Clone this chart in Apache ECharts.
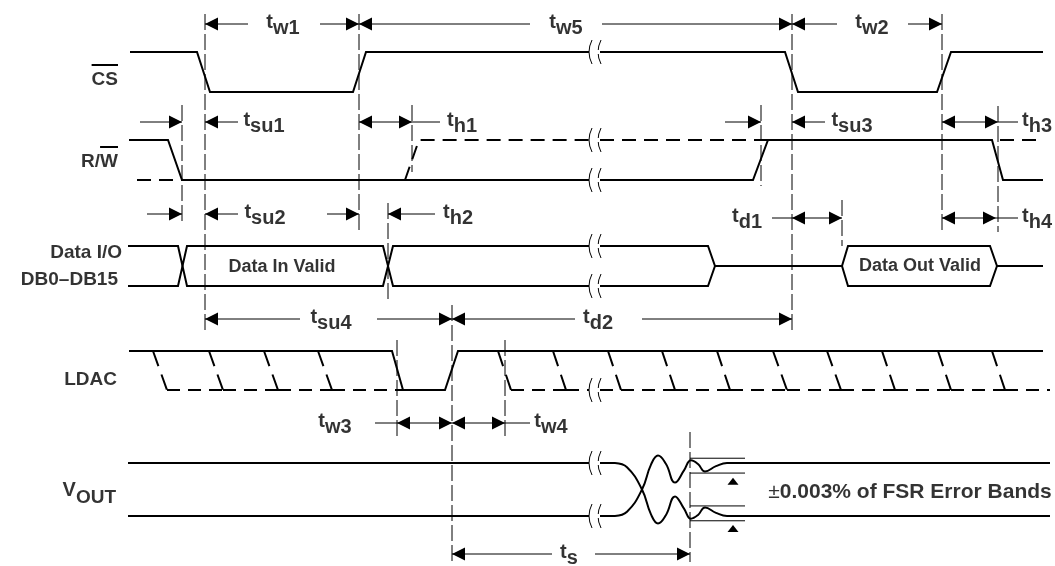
<!DOCTYPE html>
<html><head><meta charset="utf-8">
<script src="https://cdn.jsdelivr.net/npm/echarts@6/dist/echarts.min.js"></script>
<style>html,body{margin:0;padding:0;background:#fff}#c{width:1055px;height:566px}</style>
</head><body><div id="c"></div>
<script>
// ---------- data (time along x, logic level per signal row) ----------
// axis value of [low, high] logic level for each signal row
const rowLevels = { CS:[92,52], RW:[180,140], DATA:[286,246], LDAC:[390,351], VOUT:[516,463] };
// axis value of each dimension (annotation) row
const dimRows = { a:24, b:122, c:214, c2:218, d:319, e:423, f:554 };

// waveforms: [time, level] (1 = high, 0 = low, 0.5 = mid)
const csSolid = [
  [[130,1],[197,1],[210,0],[353,0],[366,1],[589,1]],
  [[600,1],[785,1],[798,0],[937,0],[951,1],[1043,1]]
];
const rwSolid = [
  [[129,1],[168,1],[182,0],[589,0]],
  [[600,0],[753,0],[768,1],[992,1],[1003,0],[1043,0]]
];
const rwDashed = [
  [[137,0],[182,0]],
  [[405,0],[419,1],[589,1]],
  [[600,1],[768,1]],
  [[1000,1],[1043,1]]
];
const dataUpper = [
  [[128,1],[178,1],[182.5,0.5],[187,1],[383,1],[388,0.5],[393,1],[589,1]],
  [[600,1],[708,1],[715,0.5],[842,0.5],[848,1],[990,1],[997,0.5],[1043,0.5]]
];
const dataLower = [
  [[128,0],[178,0],[182.5,0.5],[187,0],[383,0],[388,0.5],[393,0],[589,0]],
  [[600,0],[708,0],[715,0.5],[842,0.5],[848,0],[990,0],[997,0.5],[1043,0.5]]
];
const ldacSolid = [[[129,1],[392,1],[403,0],[445,0],[458,1],[1043,1]]];
const ldacDashedEdges = [
  [[153,1],[167,0]], [[209,1],[223,0]], [[264,1],[278,0]], [[318,1],[332,0]],
  [[498,1],[511,0]], [[553,1],[566,0]], [[608,1],[621,0]], [[662,1],[675,0]],
  [[717,1],[730,0]], [[773,1],[787,0]], [[827,1],[841,0]], [[882,1],[895,0]],
  [[938,1],[951,0]], [[992,1],[1005,0]]
];
const ldacDashedLow = [
  [[167,0],[223,0]], [[223,0],[278,0]], [[278,0],[332,0]], [[332,0],[403,0]],
  [[511,0],[566,0]], [[566,0],[589,0]], [[600,0],[621,0]], [[621,0],[675,0]],
  [[675,0],[730,0]], [[730,0],[787,0]], [[787,0],[841,0]], [[841,0],[895,0]],
  [[895,0],[951,0]], [[951,0],[1005,0]], [[1005,0],[1050,0]]
];
const voutFlat = [
  [[128,1],[589,1]], [[600,1],[615,1]], [[738,1],[1050,1]],
  [[128,0],[589,0]], [[600,0],[615,0]], [[738,0],[1050,0]]
];
const voutRise = [[615,0],[627,0.08],[642,0.5],[651,0.97],[658,1.14],[666,0.98],[675,0.63],[684,0.86],[691,1.05],[698,0.98],[705,0.84],[716,0.94],[727,1.0],[738,1.0]];
const voutFall = [[615,1],[627,0.92],[642,0.5],[651,0.03],[658,-0.14],[666,0.02],[675,0.37],[684,0.14],[691,-0.05],[698,0.02],[705,0.16],[716,0.06],[727,0.0],[738,0.0]];
const errorBands = [[690,745,1.09],[690,745,0.81],[690,745,0.19],[690,745,-0.09]];
const bandMarkers = [[733,0.72],[733,-0.17]];

// break marks: [time, row, level]
const breakMarks = [[590,'CS',1],[590,'RW',1],[590,'RW',0],[590,'DATA',1],[590,'DATA',0],[590,'LDAC',0],[590,'VOUT',1],[590,'VOUT',0]];

// vertical reference lines: [time, from, to]
const guides = [[205,14,330],[359,14,232],[182,105,222],[412,105,172],[388,203,300],[761,105,186],
  [792,14,330],[942,14,232],[998,106,232],[842,200,246],[452,305,562],[397,340,437],[505,340,437],[690,432,562]];

// dimension lines: [row, from, to]
const dimLines = [
  ['a',205,248],['a',320,359],['a',359,530],['a',602,792],['a',792,837],['a',908,942],
  ['b',140,182],['b',205,238],['b',359,440],['b',725,761],['b',792,825],['b',942,1018],
  ['c',147,182],['c',205,238],['c',327,359],['c',388,435],['c2',772,842],['c2',942,1018],
  ['d',205,300],['d',377,452],['d',452,575],['d',642,792],
  ['e',375,452],['e',452,530],
  ['f',452,552],['f',595,690]
];
// arrow heads: [time, row, direction] (-1 points left, 1 points right)
const arrowHeads = [
  [205,'a',-1],[359,'a',1],[359,'a',-1],[792,'a',1],[792,'a',-1],[942,'a',1],
  [182,'b',1],[205,'b',-1],[359,'b',-1],[412,'b',1],[761,'b',1],[792,'b',-1],[942,'b',-1],[998,'b',1],
  [182,'c',1],[205,'c',-1],[359,'c',1],[388,'c',-1],[792,'c2',-1],[842,'c2',1],[942,'c2',-1],[996,'c2',1],
  [205,'d',-1],[452,'d',1],[452,'d',-1],[792,'d',1],
  [397,'e',-1],[452,'e',1],[452,'e',-1],[505,'e',1],
  [452,'f',-1],[690,'f',1]
];
// timing parameter labels: [symbol, subscript, time, row]
const timingLabels = [
  ['t','w1',283,'a'],['t','w5',566,'a'],['t','w2',872,'a'],
  ['t','su1',264,'b'],['t','h1',462,'b'],['t','su3',852,'b'],['t','h3',1037,'b'],
  ['t','su2',265,'c'],['t','h2',458,'c'],['t','d1',747,'c2'],['t','h4',1037,'c2'],
  ['t','su4',331,'d'],['t','d2',598,'d'],
  ['t','w3',335,'e'],['t','w4',551,'e'],
  ['t','s',569,'f']
];
// signal names: [text, overlined part, row]
const signalLabels = [['CS','CS','CS'],['R/W','W','RW'],['Data I/O','','DATA'],['DB0\u2013DB15','','DATA'],['LDAC','','LDAC']];
const valueLabels = ['Data In Valid','Data Out Valid'];
const bandText = ['\u00b1','0.003% of FSR Error Bands'];

// ---------- rendering ----------
const FONT = '"Liberation Sans", Arial, Helvetica, sans-serif';
const INK = '#000';
const FS = 18;      // in-waveform labels
const FT = 20;      // timing parameter labels
const FSIG = 19;    // signal names
function lv(row, p) { const r = rowLevels[row]; return [p[0], r[0] + (r[1] - r[0]) * p[1]]; }
function rowMid(row) { const r = rowLevels[row]; return (r[0] + r[1]) / 2; }

const series = [];
function addPath(row, pts, st) {
  series.push({
    type:'line', data: pts.map(p => lv(row, p)), symbol:'none', showSymbol:false, silent:true,
    smooth: st.smooth || false, clip:false, animation:false, z: st.z || 3,
    lineStyle:{ color:INK, width: st.width || 2, type: st.dash || 'solid', cap:'butt', join:'miter' }
  });
}
function addRaw(pts, st) {
  series.push({
    type:'line', data: pts, symbol:'none', showSymbol:false, silent:true, clip:false, animation:false, z: st.z || 2,
    lineStyle:{ color:INK, width: st.width || 1, type: st.dash || 'solid', cap:'butt' }
  });
}
csSolid.forEach(s => addPath('CS', s, {}));
rwSolid.forEach(s => addPath('RW', s, {}));
rwDashed.forEach(s => addPath('RW', s, {dash:[14,8]}));
dataUpper.forEach(s => addPath('DATA', s, {}));
dataLower.forEach(s => addPath('DATA', s, {}));
ldacSolid.forEach(s => addPath('LDAC', s, {}));
ldacDashedEdges.forEach(s => addPath('LDAC', s, {dash:[16,9]}));
ldacDashedLow.forEach(s => addPath('LDAC', s, {dash:[13,8]}));
voutFlat.forEach(s => addPath('VOUT', s, {}));
addPath('VOUT', voutRise, {smooth:0.45});
addPath('VOUT', voutFall, {smooth:0.45});
errorBands.forEach(b => addPath('VOUT', [[b[0],b[2]],[b[1],b[2]]], {width:1}));
guides.forEach(g => addRaw([[g[0],g[1]],[g[0],g[2]]], {dash:[16,4], width:1}));
dimLines.forEach(d => addRaw([[d[1],dimRows[d[0]]],[d[2],dimRows[d[0]]]], {width:1}));

// arrow heads and band markers
series.push({
  type:'custom', silent:true, clip:false, animation:false, z:5,
  data: arrowHeads.map(a => [a[0], dimRows[a[1]], a[2]]).concat(bandMarkers.map(b => [b[0], lv('VOUT', [b[0], b[1]])[1], 2])),
  renderItem(params, api) {
    const p = api.coord([api.value(0), api.value(1)]);
    const d = api.value(2);
    let pts;
    if (d === 2) pts = [[p[0], p[1]], [p[0] - 5.5, p[1] + 7], [p[0] + 5.5, p[1] + 7]];
    else pts = [[p[0], p[1]], [p[0] - d * 13, p[1] - 6.5], [p[0] - d * 13, p[1] + 6.5]];
    return { type:'polygon', shape:{ points: pts }, style:{ fill: INK } };
  }
});
// break marks
series.push({
  type:'custom', silent:true, clip:false, animation:false, z:6,
  data: breakMarks.map(b => [b[0], lv(b[1], [b[0], b[2]])[1]]),
  renderItem(params, api) {
    const p = api.coord([api.value(0), api.value(1)]);
    const mk = (x) => ({ type:'bezierCurve', shape:{ x1:x + 2, y1:p[1] - 12, x2:x + 2, y2:p[1] + 12, cpx1:x - 4, cpy1:p[1] }, style:{ stroke:INK, lineWidth:1, fill:null } });
    return { type:'group', children:[ mk(p[0]), mk(p[0] + 9),
      { type:'rect', shape:{ x:p[0] + 1, y:p[1] - 2, width:8, height:4 }, style:{ fill:'#fff' } } ] };
  }
});

const baseText = { color:INK, fontFamily:FONT, fontWeight:'bold' };
const rich = {
  m: Object.assign({ fontSize:FT, lineHeight:FT + 6, verticalAlign:'top' }, baseText),
  s: Object.assign({ fontSize:FT, lineHeight:FT + 6, verticalAlign:'bottom' }, baseText),
  vm: Object.assign({ fontSize:FSIG + 1, lineHeight:FSIG + 8, verticalAlign:'top' }, baseText),
  vs: Object.assign({ fontSize:FSIG, lineHeight:FSIG + 8, verticalAlign:'bottom' }, baseText),
  p: Object.assign({}, baseText, { fontSize:21, fontWeight:'normal' }),
  q: Object.assign({ fontSize:21 }, baseText)
};
function textSeries(items, align, size) {
  series.push({
    type:'scatter', silent:true, animation:false, symbolSize:1, z:8,
    itemStyle:{ color:'rgba(0,0,0,0)' },
    data: items.map(it => ({ value: it.v, txt: it.t })),
    label:{ show:true, position:'inside', align: align, verticalAlign:'middle', color:INK,
      textBorderWidth:0, fontFamily:FONT, fontWeight:'bold', fontSize:size,
      formatter: p => p.data.txt, rich: rich }
  });
}
textSeries(timingLabels.map(l => ({ v:[l[2], dimRows[l[3]] + 1], t:`{m|${l[0]}}{s|${l[1]}}` })), 'center', FT);
const sigItems = [
  { v:[118, 80], t:signalLabels[0][0] }, { v:[118, 162], t:signalLabels[1][0] },
  { v:[122, rowMid('DATA') - 13], t:signalLabels[2][0] }, { v:[118, rowMid('DATA') + 14], t:signalLabels[3][0] },
  { v:[117, 380], t:signalLabels[4][0] }, { v:[116, 494], t:'{vm|V}{vs|OUT}' }
];
textSeries(sigItems, 'right', FSIG);
textSeries([{ v:[282, rowMid('DATA') + 1], t:valueLabels[0] }, { v:[920, rowMid('DATA')], t:valueLabels[1] }], 'center', FS);
textSeries([{ v:[910, rowMid('VOUT')+3], t:`{p|${bandText[0]}}{q|${bandText[1]}}` }], 'center', 21);

// overlines for active-low signal names (measured from the rendered font)
const mctx = document.createElement('canvas').getContext('2d');
mctx.font = `bold ${FSIG}px ${FONT}`;
[[signalLabels[0], sigItems[0]], [signalLabels[1], sigItems[1]]].forEach(([sl, it]) => {
  const w = mctx.measureText(sl[1]).width;
  addRaw([[it.v[0] - w, it.v[1] - 15], [it.v[0], it.v[1] - 15]], { width:2 });
});

const chart = echarts.init(document.getElementById('c'), null, { renderer:'canvas' });
chart.setOption({
  animation:false,
  backgroundColor:'#fff',
  grid:{ left:0, right:0, top:0, bottom:0, containLabel:false },
  xAxis:{ type:'value', min:0, max:1055, show:false },
  yAxis:{ type:'value', min:0, max:566, inverse:true, show:false },
  series: series
});
</script></body></html>
